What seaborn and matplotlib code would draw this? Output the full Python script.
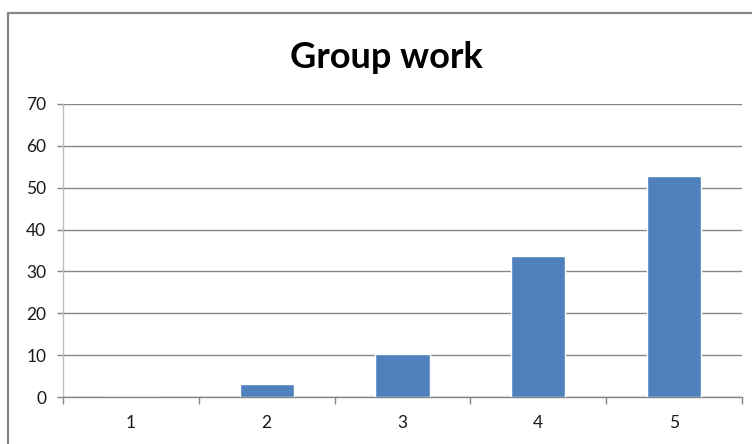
import matplotlib
matplotlib.use("Agg")
import matplotlib.pyplot as plt
import seaborn as sns
import pandas as pd
from matplotlib.lines import Line2D
from matplotlib.ticker import FixedLocator

categories = ["1", "2", "3", "4", "5"]
values = [0, 3, 10.3, 33.7, 52.8]
title = "Group work"
yticks = [0, 10, 20, 30, 40, 50, 60, 70]

sns.set_theme(style="white")
plt.rcParams['font.family'] = ['Lato', 'DejaVu Sans']

df = pd.DataFrame({"cat": categories, "val": values})

W, H = 752, 444
fig = plt.figure(figsize=(W / 100, H / 100), dpi=100)
ax = fig.add_axes([63 / W, 1 - 397 / H, (742 - 63) / W, (397 - 104) / H])

sns.barplot(data=df, x="cat", y="val", color="#4F81BD", width=0.4,
            saturation=1, ax=ax, zorder=3)

ax.set_xlim(-0.5, 4.5)
ax.set_ylim(0, 70)
ax.set_yticks(yticks)
ax.set_xlabel("")
ax.set_ylabel("")

grid_c = "#868686"
ax.yaxis.grid(True, color=grid_c, linewidth=1.0, zorder=0)
ax.set_axisbelow(True)
for s in ["top", "right"]:
    ax.spines[s].set_visible(False)
ax.spines["left"].set_color("#BFBFBF")
ax.spines["left"].set_linewidth(1.0)
ax.spines["bottom"].set_color(grid_c)
ax.spines["bottom"].set_linewidth(1.0)

ax.tick_params(axis="y", which="major", direction="out", length=4, width=1,
               color=grid_c, pad=8, labelsize=12.5, labelcolor="#1a1a1a", left=True)
ax.tick_params(axis="x", which="major", length=0, pad=13, labelsize=12.5,
               labelcolor="#1a1a1a", bottom=True)
ax.xaxis.set_minor_locator(FixedLocator([-0.5, 0.5, 1.5, 2.5, 3.5, 4.5]))
ax.tick_params(axis="x", which="minor", direction="out", length=5, width=1,
               color=grid_c, bottom=True)

fig.text(386 / W, 1 - 57 / H, title, ha="center", va="center",
         fontsize=26, fontweight="bold", color="#000000")

# outer chart frame (partially cropped)
bx = 7.5 / W
by = 1 - 13.5 / H
fig.add_artist(Line2D([bx, bx], [0, by], transform=fig.transFigure,
                      color=grid_c, linewidth=1.6))
fig.add_artist(Line2D([bx, 1], [by, by], transform=fig.transFigure,
                      color=grid_c, linewidth=1.6))

fig.savefig("out.png", dpi=100)
